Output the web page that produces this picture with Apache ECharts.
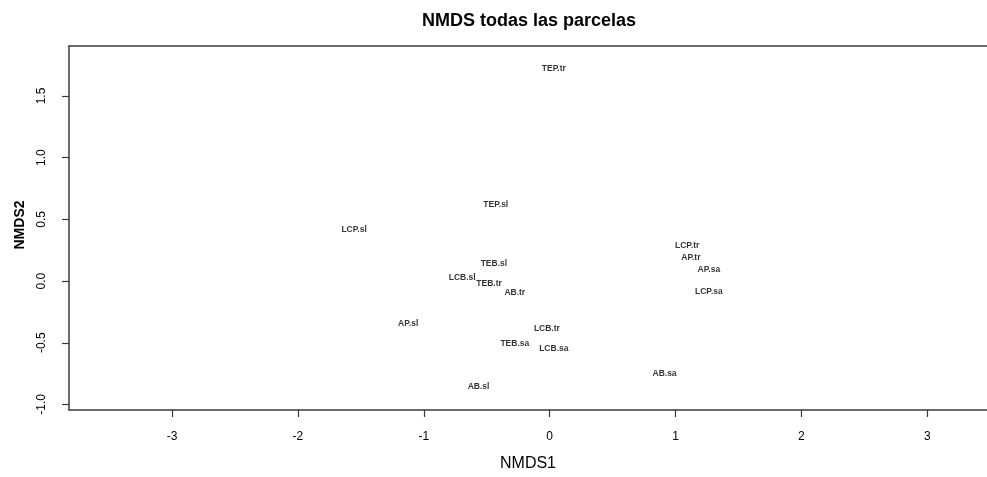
<!DOCTYPE html>
<html>
<head>
<meta charset="utf-8">
<script src="https://cdn.jsdelivr.net/npm/echarts@6/dist/echarts.min.js"></script>
<style>html,body{margin:0;padding:0;background:#fff}#c{width:987px;height:477px}</style>
</head>
<body>
<div id="c"></div>
<script>
const sites = ["TEP.tr","TEP.sl","LCP.sl","TEB.sl","LCB.sl","TEB.tr","AB.tr","AP.sl","LCB.tr","TEB.sa","LCB.sa","AB.sl","LCP.tr","AP.tr","AP.sa","LCP.sa","AB.sa"];
const nmds1 = [0.033,-0.428,-1.554,-0.443,-0.695,-0.481,-0.277,-1.124,-0.022,-0.277,0.033,-0.565,1.093,1.122,1.265,1.265,0.913];
const nmds2 = [1.72,0.619,0.413,0.140,0.029,-0.024,-0.095,-0.348,-0.383,-0.508,-0.545,-0.854,0.284,0.191,0.093,-0.084,-0.754];
const xTicks = [-3,-2,-1,0,1,2,3];
const yTicks = [-1.0,-0.5,0.0,0.5,1.0,1.5];
const xRange = [-3.819, 3.475];
const yRange = [-1.045, 1.905];

const lineCol = '#3a3a3a';
const FONT = 'Liberation Sans, Arial, sans-serif';
const chart = echarts.init(document.getElementById('c'), null, {renderer:'canvas'});
const pts = sites.map((s,i)=>({name:s, value:[nmds1[i], nmds2[i]]}));
chart.setOption({
  animation:false,
  backgroundColor:'#fff',
  title:{text:'NMDS todas las parcelas', left:524, top:7, textAlign:'center',
    textStyle:{fontFamily:FONT, fontSize:18, fontWeight:'bold', color:'#000'}},
  grid:{left:69, right:0, top:46, bottom:59},
  xAxis:[{
    type:'value', min:xRange[0], max:xRange[1], position:'bottom',
    name:'NMDS1', nameLocation:'middle', nameGap:46,
    nameTextStyle:{fontFamily:FONT, fontSize:16, color:'#000'},
    splitLine:{show:false},
    axisLine:{show:true, onZero:false, lineStyle:{color:lineCol, width:1.5}},
    axisTick:{show:true, length:7, customValues:xTicks, lineStyle:{color:lineCol, width:1.2}},
    axisLabel:{customValues:xTicks, margin:21, fontFamily:FONT, fontSize:12, color:'#000',
      formatter:v=>String(Math.round(v))}
  },{
    type:'value', min:xRange[0], max:xRange[1], position:'top',
    splitLine:{show:false}, axisTick:{show:false}, axisLabel:{show:false},
    axisLine:{show:true, onZero:false, lineStyle:{color:lineCol, width:1.5}}
  }],
  yAxis:{
    type:'value', min:yRange[0], max:yRange[1],
    name:'NMDS2', nameLocation:'middle', nameGap:42, nameRotate:90,
    nameTextStyle:{fontFamily:FONT, fontSize:14, fontWeight:'bold', color:'#000', padding:[0,0,0,6]},
    splitLine:{show:false},
    axisLine:{show:true, onZero:false, lineStyle:{color:lineCol, width:1.5}},
    axisTick:{show:true, length:7, customValues:yTicks, lineStyle:{color:lineCol, width:1.2}},
    axisLabel:{customValues:yTicks, rotate:90, margin:21, fontFamily:FONT, fontSize:12, color:'#000',
      formatter:v=>v.toFixed(1)}
  },
  series:[{
    type:'scatter', data:pts, symbolSize:1, itemStyle:{color:'rgba(0,0,0,0)'},
    label:{show:true, position:'inside', formatter:p=>p.name,
      fontFamily:FONT, fontSize:8.5, fontWeight:'bold', color:'#000'},
    labelLayout:{hideOverlap:false}
  }]
});
</script>
</body>
</html>
